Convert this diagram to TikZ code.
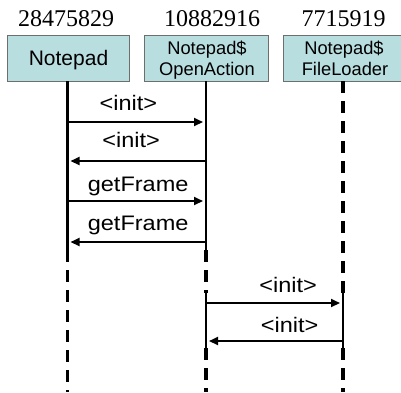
\documentclass[tikz,border=0pt]{standalone}
\usepackage{fontspec}
\setmainfont{Liberation Sans}
\newfontfamily\numfont{Liberation Serif}
\newfontfamily\labfont[FakeStretch=1.12]{Liberation Sans}
\usetikzlibrary{arrows.meta}
\definecolor{boxfill}{RGB}{185,222,224}
\definecolor{boxline}{RGB}{110,110,110}
\tikzset{
  objbox/.style={draw=boxline, line width=0.8pt, fill=boxfill, inner sep=0pt, anchor=north west},
  objnum/.style={font=\numfont\fontsize{24}{26}\selectfont, anchor=base, inner sep=0pt},
  active/.style={line width=2.6pt},
  idle/.style={line width=3.4pt, dash pattern=on 12pt off 8pt},
  msg/.style={line width=2pt, -{Triangle[length=9pt,width=8pt]}, shorten >=3pt},
  lab/.style={font=\labfont\fontsize{21}{24}\selectfont, anchor=base, inner sep=0pt},
}
\begin{document}
\begin{tikzpicture}[x=1pt,y=-1pt]
\useasboundingbox (0,0) rectangle (401,392);
% object boxes
\node[objbox, minimum width=122pt, minimum height=46pt] (b1) at (7,35) {};
\node[objbox, minimum width=124pt, minimum height=46pt] (b2) at (144,35) {};
\node[objbox, minimum width=119pt, minimum height=46pt] (b3) at (282.5,35) {};
% box texts
\node[font=\fontsize{21}{24}\selectfont, anchor=base, inner sep=0pt] (t1) at (68.5,65) {Notepad};
\node[font=\fontsize{18.3}{21}\selectfont, anchor=base, inner sep=0pt] (t2a) at (207,54) {Notepad\$};
\node[font=\fontsize{18.3}{21}\selectfont, anchor=base, inner sep=0pt] (t2b) at (207,75) {OpenAction};
\node[font=\fontsize{18.3}{21}\selectfont, anchor=base, inner sep=0pt] (t3a) at (344,54) {Notepad\$};
\node[font=\fontsize{18.3}{21}\selectfont, anchor=base, inner sep=0pt] (t3b) at (345,75) {FileLoader};
% object ids
\node[objnum] (n1) at (66,26) {28475829};
\node[objnum] (n2) at (212,26) {10882916};
\node[objnum] (n3) at (343.5,26) {7715919};
% lifeline coordinates
\coordinate (l1top) at (67.5,81);
\coordinate (l1a) at (67.5,250);
\coordinate (l1bot) at (67.5,392);
\coordinate (l2top) at (206,81);
\coordinate (l2a) at (206,250);
\coordinate (l2b) at (206,293);
\coordinate (l2c) at (206,348);
\coordinate (l2bot) at (206,392);
\coordinate (l3top) at (343,81);
\coordinate (l3b) at (343,293);
\coordinate (l3c) at (343,348);
\coordinate (l3bot) at (343,392);
% lifelines
\draw[active] (l1top) -- (l1a);
\draw[idle] (l1a) -- (l1bot);
\draw[active] (l2top) -- (l2a);
\draw[idle] (l2a) -- (l2b);
\draw[active] (l2b) -- (l2c);
\draw[idle] (l2c) -- (l2bot);
\draw[idle] (l3top) -- (l3b);
\draw[active] (l3b) -- (l3c);
\draw[idle] (l3c) -- (l3bot);
% message end points
\coordinate (m1s) at (67.5,122); \coordinate (m1e) at (206,122);
\coordinate (m2s) at (206,161);  \coordinate (m2e) at (67.5,161);
\coordinate (m3s) at (67.5,201); \coordinate (m3e) at (206,201);
\coordinate (m4s) at (206,242);  \coordinate (m4e) at (67.5,242);
\coordinate (m5s) at (206,303);  \coordinate (m5e) at (343,303);
\coordinate (m6s) at (343,341);  \coordinate (m6e) at (206,341);
% messages
\draw[msg] (m1s) -- node[lab, pos=0.44, yshift=12pt] (L1) {<init>} (m1e);
\draw[msg] (m2s) -- node[lab, pos=0.54, yshift=14pt] (L2) {<init>} (m2e);
\draw[msg] (m3s) -- node[lab, pos=0.51, yshift=10pt] (L3) {getFrame} (m3e);
\draw[msg] (m4s) -- node[lab, pos=0.49, yshift=12pt] (L4) {getFrame} (m4e);
\draw[msg] (m5s) -- node[lab, pos=0.60, yshift=11pt] (L5) {<init>} (m5e);
\draw[msg] (m6s) -- node[lab, pos=0.39, yshift=9pt] (L6) {<init>} (m6e);
\end{tikzpicture}
\end{document}
